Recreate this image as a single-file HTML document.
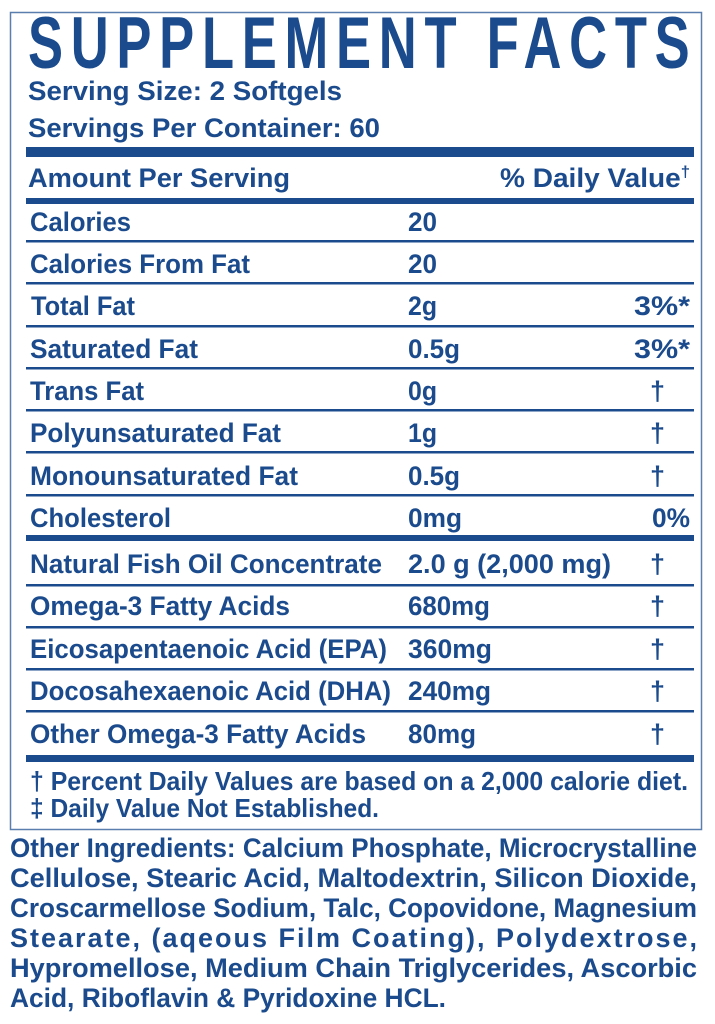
<!DOCTYPE html>
<html><head><meta charset="utf-8"><style>
html,body{margin:0;padding:0;background:#fff;}
svg{display:block;}
text{font-family:"Liberation Sans",sans-serif;font-weight:bold;fill:#1b4b8c;}
</style></head><body>
<svg width="715" height="1024" viewBox="0 0 715 1024" xmlns="http://www.w3.org/2000/svg">
<rect x="10.5" y="12.5" width="691" height="817" fill="none" stroke="#5a7fae" stroke-width="1.5"/>
<g transform="scale(0.72,1)">
<text x="38.9" y="68" font-size="73" textLength="919" lengthAdjust="spacing">SUPPLEMENT FACTS</text>
</g>
<text x="28" y="100" font-size="27" textLength="314" lengthAdjust="spacingAndGlyphs">Serving Size: 2 Softgels</text>
<text x="28" y="137" font-size="27" textLength="352" lengthAdjust="spacingAndGlyphs">Servings Per Container: 60</text>
<rect x="26" y="147" width="668" height="10" fill="#1b4b8c"/>
<text x="28" y="187" font-size="27" textLength="262" lengthAdjust="spacingAndGlyphs">Amount Per Serving</text>
<text x="500" y="187" font-size="27" textLength="190" lengthAdjust="spacingAndGlyphs">% Daily Value<tspan font-size="16" dy="-10">†</tspan></text>
<rect x="26" y="198" width="668" height="6" fill="#1b4b8c"/>
<g fill="#1b4b8c">
<rect x="26" y="240" width="668" height="2.5"/>
<rect x="26" y="282" width="668" height="2.5"/>
<rect x="26" y="325" width="668" height="2.5"/>
<rect x="26" y="367" width="668" height="2.5"/>
<rect x="26" y="409" width="668" height="2.5"/>
<rect x="26" y="451" width="668" height="2.5"/>
<rect x="26" y="494" width="668" height="2.5"/>
<rect x="26" y="535" width="668" height="6"/>
<rect x="26" y="584" width="668" height="2.5"/>
<rect x="26" y="626" width="668" height="2.5"/>
<rect x="26" y="668" width="668" height="2.5"/>
<rect x="26" y="710" width="668" height="2.5"/>
<rect x="26" y="755" width="668" height="7"/>
</g>
<g font-size="27">
<text x="30" y="231" textLength="101" lengthAdjust="spacingAndGlyphs">Calories</text>
<text x="408" y="231" textLength="29" lengthAdjust="spacingAndGlyphs">20</text>
<text x="30" y="273" textLength="220" lengthAdjust="spacingAndGlyphs">Calories From Fat</text>
<text x="408" y="273" textLength="29" lengthAdjust="spacingAndGlyphs">20</text>
<text x="31" y="315" textLength="104" lengthAdjust="spacingAndGlyphs">Total Fat</text>
<text x="408" y="315" textLength="29" lengthAdjust="spacingAndGlyphs">2g</text>
<text x="634" y="315" textLength="56" lengthAdjust="spacingAndGlyphs">3%*</text>
<text x="30" y="358" textLength="168" lengthAdjust="spacingAndGlyphs">Saturated Fat</text>
<text x="408" y="358" textLength="52" lengthAdjust="spacingAndGlyphs">0.5g</text>
<text x="634" y="358" textLength="56" lengthAdjust="spacingAndGlyphs">3%*</text>
<text x="30" y="400" textLength="114" lengthAdjust="spacingAndGlyphs">Trans Fat</text>
<text x="408" y="400" textLength="29" lengthAdjust="spacingAndGlyphs">0g</text>
<text x="650" y="400">†</text>
<text x="30" y="442" textLength="251" lengthAdjust="spacingAndGlyphs">Polyunsaturated Fat</text>
<text x="408" y="442" textLength="29" lengthAdjust="spacingAndGlyphs">1g</text>
<text x="650" y="442">†</text>
<text x="30" y="485" textLength="268" lengthAdjust="spacingAndGlyphs">Monounsaturated Fat</text>
<text x="408" y="485" textLength="52" lengthAdjust="spacingAndGlyphs">0.5g</text>
<text x="650" y="485">†</text>
<text x="30" y="527" textLength="141" lengthAdjust="spacingAndGlyphs">Cholesterol</text>
<text x="408" y="527" textLength="54" lengthAdjust="spacingAndGlyphs">0mg</text>
<text x="652" y="527" textLength="38" lengthAdjust="spacingAndGlyphs">0%</text>
<text x="30" y="573" textLength="352" lengthAdjust="spacingAndGlyphs">Natural Fish Oil Concentrate</text>
<text x="408" y="573" textLength="203" lengthAdjust="spacingAndGlyphs">2.0 g (2,000 mg)</text>
<text x="650" y="573">†</text>
<text x="30" y="615" textLength="260" lengthAdjust="spacingAndGlyphs">Omega-3 Fatty Acids</text>
<text x="408" y="615" textLength="82" lengthAdjust="spacingAndGlyphs">680mg</text>
<text x="650" y="615">†</text>
<text x="30" y="658" textLength="357" lengthAdjust="spacingAndGlyphs">Eicosapentaenoic Acid (EPA)</text>
<text x="408" y="658" textLength="84" lengthAdjust="spacingAndGlyphs">360mg</text>
<text x="650" y="658">†</text>
<text x="30" y="700" textLength="361" lengthAdjust="spacingAndGlyphs">Docosahexaenoic Acid (DHA)</text>
<text x="408" y="700" textLength="83" lengthAdjust="spacingAndGlyphs">240mg</text>
<text x="650" y="700">†</text>
<text x="30" y="743" textLength="336" lengthAdjust="spacingAndGlyphs">Other Omega-3 Fatty Acids</text>
<text x="408" y="743" textLength="68" lengthAdjust="spacingAndGlyphs">80mg</text>
<text x="650" y="743">†</text>
</g>
<g font-size="26">
<text x="30" y="790" textLength="658" lengthAdjust="spacingAndGlyphs">† Percent Daily Values are based on a 2,000 calorie diet.</text>
<text x="30" y="817" textLength="349" lengthAdjust="spacingAndGlyphs">‡ Daily Value Not Established.</text>
</g>
<g font-size="27">
<text x="10" y="857" textLength="687" lengthAdjust="spacingAndGlyphs">Other Ingredients: Calcium Phosphate, Microcrystalline</text>
<text x="10" y="887" textLength="687" lengthAdjust="spacingAndGlyphs">Cellulose, Stearic Acid, Maltodextrin, Silicon Dioxide,</text>
<text x="10" y="917" textLength="687" lengthAdjust="spacingAndGlyphs">Croscarmellose Sodium, Talc, Copovidone, Magnesium</text>
<text x="10" y="947" textLength="687" lengthAdjust="spacing">Stearate, (aqeous Film Coating), Polydextrose,</text>
<text x="10" y="977" textLength="687" lengthAdjust="spacingAndGlyphs">Hypromellose, Medium Chain Triglycerides, Ascorbic</text>
<text x="10" y="1007" textLength="436" lengthAdjust="spacingAndGlyphs">Acid, Riboflavin &amp; Pyridoxine HCL.</text>
</g>
</svg>
</body></html>
